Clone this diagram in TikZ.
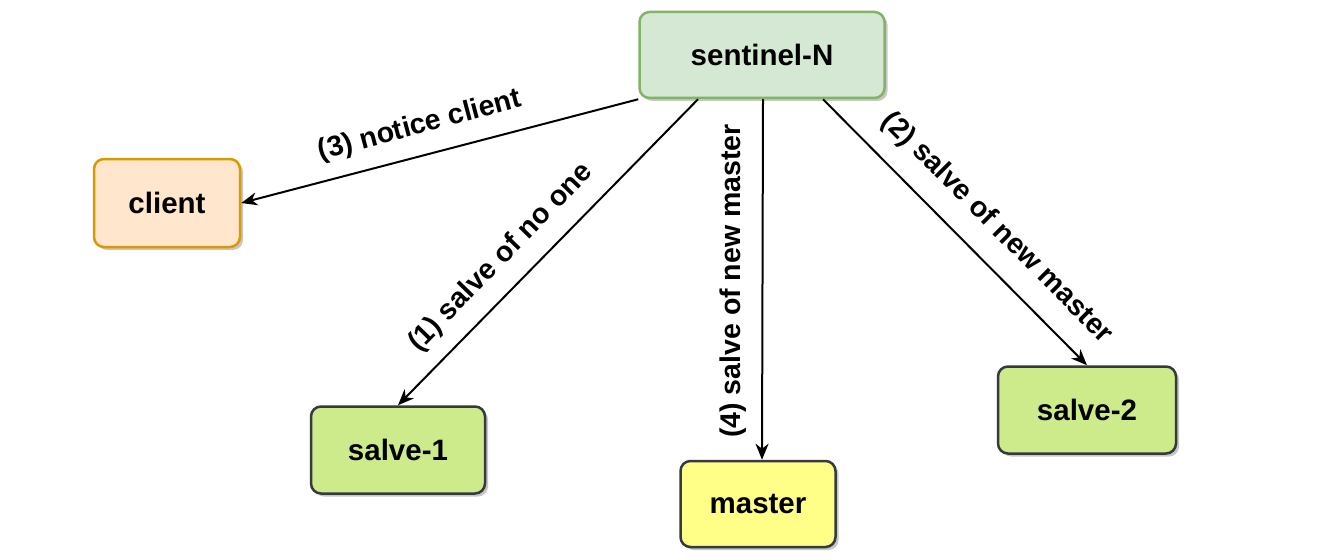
\documentclass[tikz,border=0pt]{standalone}
\usepackage{fontspec}
\setmainfont{Liberation Sans}
\usetikzlibrary{arrows.meta,shadows}
\definecolor{gfill}{HTML}{D5E8D4}
\definecolor{gdraw}{HTML}{82B366}
\definecolor{ofill}{HTML}{FFE6CC}
\definecolor{odraw}{HTML}{D79B00}
\definecolor{lfill}{HTML}{CDEB8B}
\definecolor{ddraw}{HTML}{36393D}
\definecolor{yfill}{HTML}{FFFF88}
\tikzset{
  box/.style={rectangle, rounded corners=10pt, line width=2.5pt, inner sep=0pt,
    font=\fontsize{29.5}{33}\selectfont\bfseries,
    drop shadow={shadow xshift=3pt, shadow yshift=-3pt, fill=black!22, opacity=1}},
  conn/.style={line width=2pt, -{Stealth[length=16pt,width=13pt,inset=5pt]}},
  lbl/.style={font=\fontsize{28.5}{32}\selectfont\bfseries, inner sep=0pt}
}
\begin{document}
\begin{tikzpicture}[x=1pt,y=-1pt]
\useasboundingbox (0,0) rectangle (1321,559);
\node[box, fill=gfill, draw=gdraw, minimum width=245pt, minimum height=86pt] (sentinel) at (762,55) {sentinel-N};
\node[box, fill=ofill, draw=odraw, minimum width=146pt, minimum height=88pt] (client) at (167,203) {client};
\node[box, fill=lfill, draw=ddraw, minimum width=174pt, minimum height=87pt] (s1) at (398,450) {salve-1};
\node[box, fill=yfill, draw=ddraw, minimum width=155pt, minimum height=86pt] (master) at (758,504) {master};
\node[box, fill=lfill, draw=ddraw, minimum width=178pt, minimum height=87pt] (s2) at (1087,410) {salve-2};

\draw[conn] (sentinel.south west) -- (client.east);
\draw[conn] ([xshift=-64pt]sentinel.south) -- (s1.north);
\draw[conn] ([xshift=1pt]sentinel.south) -- ([xshift=4pt]master.north);
\draw[conn] ([xshift=61pt]sentinel.south) -- (s2.north);

\node[lbl, rotate=14.9] (l3) at (420,126) {(3) notice client};
\node[lbl, rotate=45.8] (l1) at (501,258) {(1) salve of no one};
\node[lbl, rotate=90] (l4) at (733,281) {(4) salve of new master};
\node[lbl, rotate=-45] (l2) at (997,228) {(2) salve of new master};
\end{tikzpicture}
\end{document}
